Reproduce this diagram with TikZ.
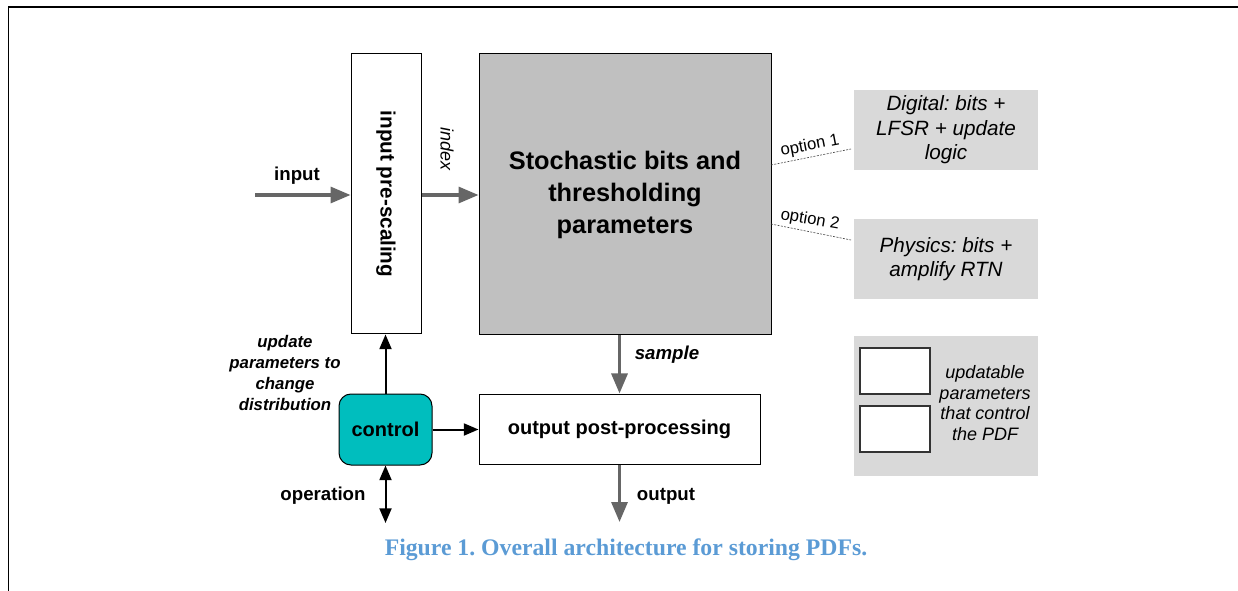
\documentclass[tikz,border=0pt]{standalone}
\usepackage{fontspec}
\setmainfont{Liberation Sans}
\newfontfamily\capfont{Liberation Serif}
\usetikzlibrary{arrows.meta}
\definecolor{boxgray}{RGB}{192,192,192}
\definecolor{optgray}{RGB}{217,217,217}
\definecolor{arrgray}{RGB}{102,102,102}
\definecolor{teal2}{RGB}{0,190,190}
\definecolor{capblue}{RGB}{91,155,213}
\frenchspacing
\begin{document}
\begin{tikzpicture}[x=0.75pt,y=-0.75pt,
  blk/.style={draw=black, line width=0.75pt, inner sep=0pt},
  garrow/.style={draw=arrgray, line width=2.4pt, -{Triangle[length=15pt,width=12pt]}},
  barrow/.style={draw=black, line width=1.5pt, -{Triangle[length=11pt,width=9pt]}},
  bdarrow/.style={draw=black, line width=1.5pt, {Triangle[length=11pt,width=9pt]}-{Triangle[length=11pt,width=9pt]}},
  optline/.style={draw=black!70, line width=0.5pt, dash pattern=on 1.5pt off 1pt},
  optbox/.style={fill=optgray, inner sep=0pt, minimum width={184*0.75pt}, align=center, font=\fontsize{15.5}{18.4}\selectfont\itshape},
  lbl/.style={font=\fontsize{14}{16}\selectfont\bfseries, inner sep=0pt},
  ilbl/.style={font=\fontsize{14}{16}\selectfont\bfseries\itshape, inner sep=0pt},
  smallopt/.style={font=\fontsize{12.5}{14}\selectfont, inner sep=0pt}
]
\useasboundingbox (0,0) rectangle (1238,591);
% frame
\draw[line width=1.5pt] (8,7) -- (1238,7);
\draw[line width=0.75pt] (8,7) -- (8,591);

% main boxes
\node[blk, fill=white, minimum width={70*0.75pt}, minimum height={280*0.75pt}] (pre) at (386,194) {};
\node[rotate=-90, font=\fontsize{15.5}{18}\selectfont\bfseries] at (pre.center) {input pre-scaling};
\node[blk, fill=boxgray, minimum width={292*0.75pt}, minimum height={281*0.75pt}, align=center,
      font=\fontsize{19}{24}\selectfont\bfseries] (big) at (625,194.5) {Stochastic bits and\\thresholding\\parameters};
\node[blk, fill=white, minimum width={281*0.75pt}, minimum height={70*0.75pt},
      font=\fontsize{15}{18}\selectfont\bfseries] (post) at (619.5,429) {output post-processing};
\node[blk, fill=teal2, rounded corners=9pt, minimum width={93*0.75pt}, minimum height={71*0.75pt},
      font=\fontsize{15}{18}\selectfont\bfseries] (ctrl) at (385.5,429.5) {control};

% option boxes
\node[optbox, minimum height={80*0.75pt}] (dig) at (946,130) {Digital: bits +\\LFSR + update\\logic};
\node[optbox, minimum height={80*0.75pt}] (phy) at (946,259) {Physics: bits +\\amplify RTN};

% legend
\node[fill=optgray, inner sep=0pt, minimum width={184*0.75pt}, minimum height={140*0.75pt}] (leg) at (946,406) {};
\node[blk, fill=white, line width=1pt, draw=black!80, minimum width={70*0.75pt}, minimum height={46*0.75pt}] (leg1) at (895,371) {};
\node[blk, fill=white, line width=1pt, draw=black!80, minimum width={70*0.75pt}, minimum height={46*0.75pt}] (leg2) at (895,429) {};
\node[align=center, inner sep=0pt, font=\fontsize{13.5}{15.5}\selectfont\itshape] (legt) at (985,403) {updatable\\parameters\\that control\\the PDF};

% input arrow
\coordinate (inS) at (255,195);
\draw[garrow] (inS) -- (inS -| pre.west);
\node[lbl] (inL) at (297,176) {input};
% index arrow
\draw[garrow] (pre.east |- inS) -- (big.west |- inS);
\node[rotate=-90, font=\fontsize{13.5}{16}\selectfont\itshape, inner sep=0pt] (idx) at (447,149) {index};

% sample arrow
\draw[garrow] (post.north |- big.south) -- (post.north);
\node[ilbl] (smp) at (667,355) {sample};
% output arrow
\coordinate (outE) at (619.5,522);
\draw[garrow] (post.south) -- (outE);
\node[lbl] (outL) at (666,496) {output};

% control arrows
\draw[barrow] (ctrl.north) -- (ctrl.north |- pre.south);
\draw[barrow] (ctrl.east) -- (ctrl.east -| post.west);
\coordinate (opE) at (385.5,523);
\draw[bdarrow] (ctrl.south) -- (opE);
\node[lbl] (opL) at (323,496) {operation};
\node[align=center, inner sep=0pt, font=\fontsize{12.6}{15.8}\selectfont\bfseries\itshape] (upd) at (285,373)
  {update\\parameters to\\change\\distribution};

% option lines
\coordinate (o1a) at (771,165);
\coordinate (o1b) at (851,149);
\coordinate (o2a) at (771,224);
\coordinate (o2b) at (851,240);
\draw[optline] (o1a) -- (o1b);
\draw[optline] (o2a) -- (o2b);
\node[smallopt, rotate=11] (op1) at (810,146) {option 1};
\node[smallopt, rotate=-10] (op2) at (810,220) {option 2};

% caption
\node[font=\fontsize{17.8}{20}\selectfont\capfont\bfseries, text=capblue, inner sep=0pt] (cap) at (626,550)
  {Figure 1. Overall architecture for storing PDFs.};
\end{tikzpicture}
\end{document}
